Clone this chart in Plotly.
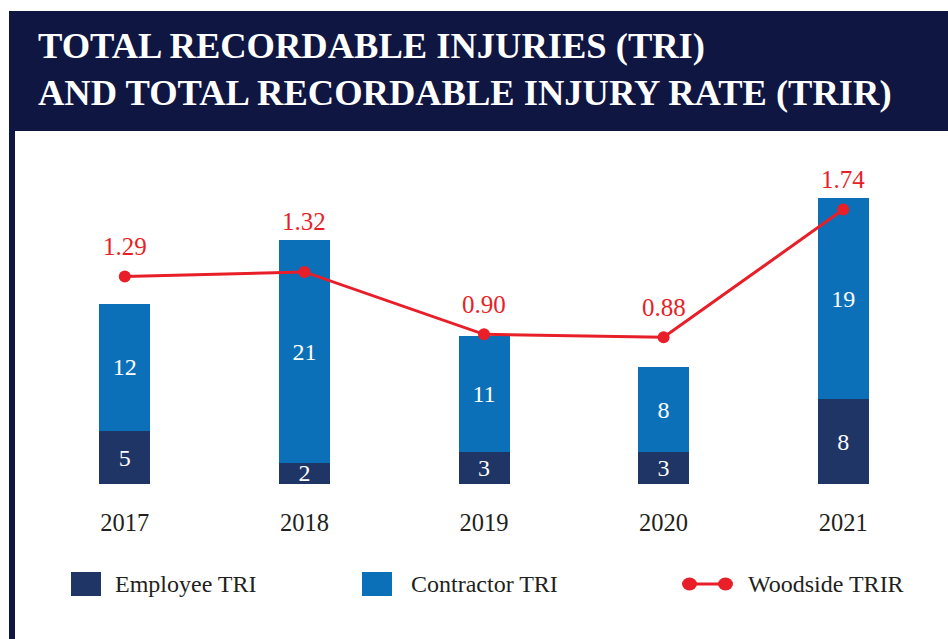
import plotly.graph_objects as go

years = ["2017", "2018", "2019", "2020", "2021"]
employee_tri = [5, 2, 3, 3, 8]
contractor_tri = [12, 21, 11, 8, 19]
woodside_trir = [1.29, 1.32, 0.90, 0.88, 1.74]
trir_labels = ["1.29", "1.32", "0.90", "0.88", "1.74"]

W, H = 948, 639
L, R, T, B = 35, 15, 160, 155
PW, PH = W - L - R, H - T - B

NAVY = "#0f1641"
EMP = "#1e3566"
CON = "#0c70b8"
RED = "#e81f28"
TXT = "#231f20"
FONT = "Times New Roman, Liberation Serif, serif"

# label lift (pixels) above each TRIR point; 2018 sits clear of the bar top
LABEL_SHIFT = [30, 50, 30, 30, 30]


def px(x):
    return (x - L) / PW


def py(y):
    return (H - B - y) / PH


fig = go.Figure()
fig.add_trace(go.Bar(
    x=years, y=employee_tri, name="Employee TRI", marker_color=EMP,
    marker_line_width=0, width=0.284, text=employee_tri, textangle=0,
    textposition="inside", insidetextanchor="middle", constraintext="none",
    textfont=dict(color="white", size=24, family=FONT), showlegend=False,
))
fig.add_trace(go.Bar(
    x=years, y=contractor_tri, name="Contractor TRI", marker_color=CON,
    marker_line_width=0, width=0.284, text=contractor_tri, textangle=0,
    textposition="inside", insidetextanchor="middle", constraintext="none",
    textfont=dict(color="white", size=24, family=FONT), showlegend=False,
))
fig.add_trace(go.Scatter(
    x=years, y=woodside_trir, name="Woodside TRIR", yaxis="y2",
    mode="lines+markers", line=dict(color=RED, width=3),
    marker=dict(color=RED, size=12), showlegend=False,
))

annotations = []
for i, (v, lab) in enumerate(zip(woodside_trir, trir_labels)):
    annotations.append(dict(
        x=i, y=v, xref="x", yref="y2", text=lab, showarrow=False,
        yshift=LABEL_SHIFT[i], font=dict(color=RED, size=25, family=FONT),
    ))

shapes = [
    dict(type="rect", xref="paper", yref="paper", x0=px(9), x1=px(W + 5),
         y0=py(131), y1=py(11), fillcolor=NAVY, line_width=0, layer="below"),
    dict(type="rect", xref="paper", yref="paper", x0=px(9), x1=px(15),
         y0=py(H + 5), y1=py(131), fillcolor=NAVY, line_width=0, layer="below"),
    dict(type="rect", xref="paper", yref="paper", x0=px(71), x1=px(101),
         y0=py(596), y1=py(572), fillcolor=EMP, line_width=0),
    dict(type="rect", xref="paper", yref="paper", x0=px(362), x1=px(392),
         y0=py(596), y1=py(572), fillcolor=CON, line_width=0),
    dict(type="line", xref="paper", yref="paper", x0=px(689), x1=px(726),
         y0=py(584), y1=py(584), line=dict(color=RED, width=3)),
    dict(type="circle", xref="paper", yref="paper", x0=px(682), x1=px(697),
         y0=py(590.5), y1=py(577.5), fillcolor=RED, line_width=0),
    dict(type="circle", xref="paper", yref="paper", x0=px(718), x1=px(733),
         y0=py(590.5), y1=py(577.5), fillcolor=RED, line_width=0),
]
for txt, x in [("Employee TRI", 113), ("Contractor TRI", 409), ("Woodside TRIR", 746)]:
    annotations.append(dict(
        x=px(x), y=py(584), xref="paper", yref="paper", text=txt,
        showarrow=False, xanchor="left", yanchor="middle",
        font=dict(color=TXT, size=24, family=FONT),
    ))

fig.update_layout(
    width=W, height=H, autosize=False,
    margin=dict(l=L, r=R, t=T, b=B),
    paper_bgcolor="white", plot_bgcolor="white",
    barmode="stack", bargap=0.7,
    title=dict(
        text="<b>TOTAL RECORDABLE INJURIES (TRI)<br>AND TOTAL RECORDABLE INJURY RATE (TRIR)</b>",
        x=38 / W, xanchor="left", xref="container",
        y=1 - 58 / H, yanchor="middle", yref="container",
        font=dict(color="white", size=36.5, family=FONT),
    ),
    xaxis=dict(
        type="category", range=[-0.5, 4.5], showgrid=False, zeroline=False,
        showline=False, ticks="", ticklabelstandoff=21,
        tickfont=dict(color=TXT, size=24.5, family=FONT),
    ),
    yaxis=dict(range=[0, PH / 10.6], visible=False, fixedrange=True),
    yaxis2=dict(range=[-0.108, -0.108 + PH / 148.5], overlaying="y",
                visible=False, fixedrange=True),
    shapes=shapes,
    annotations=annotations,
    showlegend=False,
)

fig.write_html(
    "out.html",
    config={"displayModeBar": False},
    post_script="document.body.style.margin='0';document.body.style.overflow='hidden';",
)
